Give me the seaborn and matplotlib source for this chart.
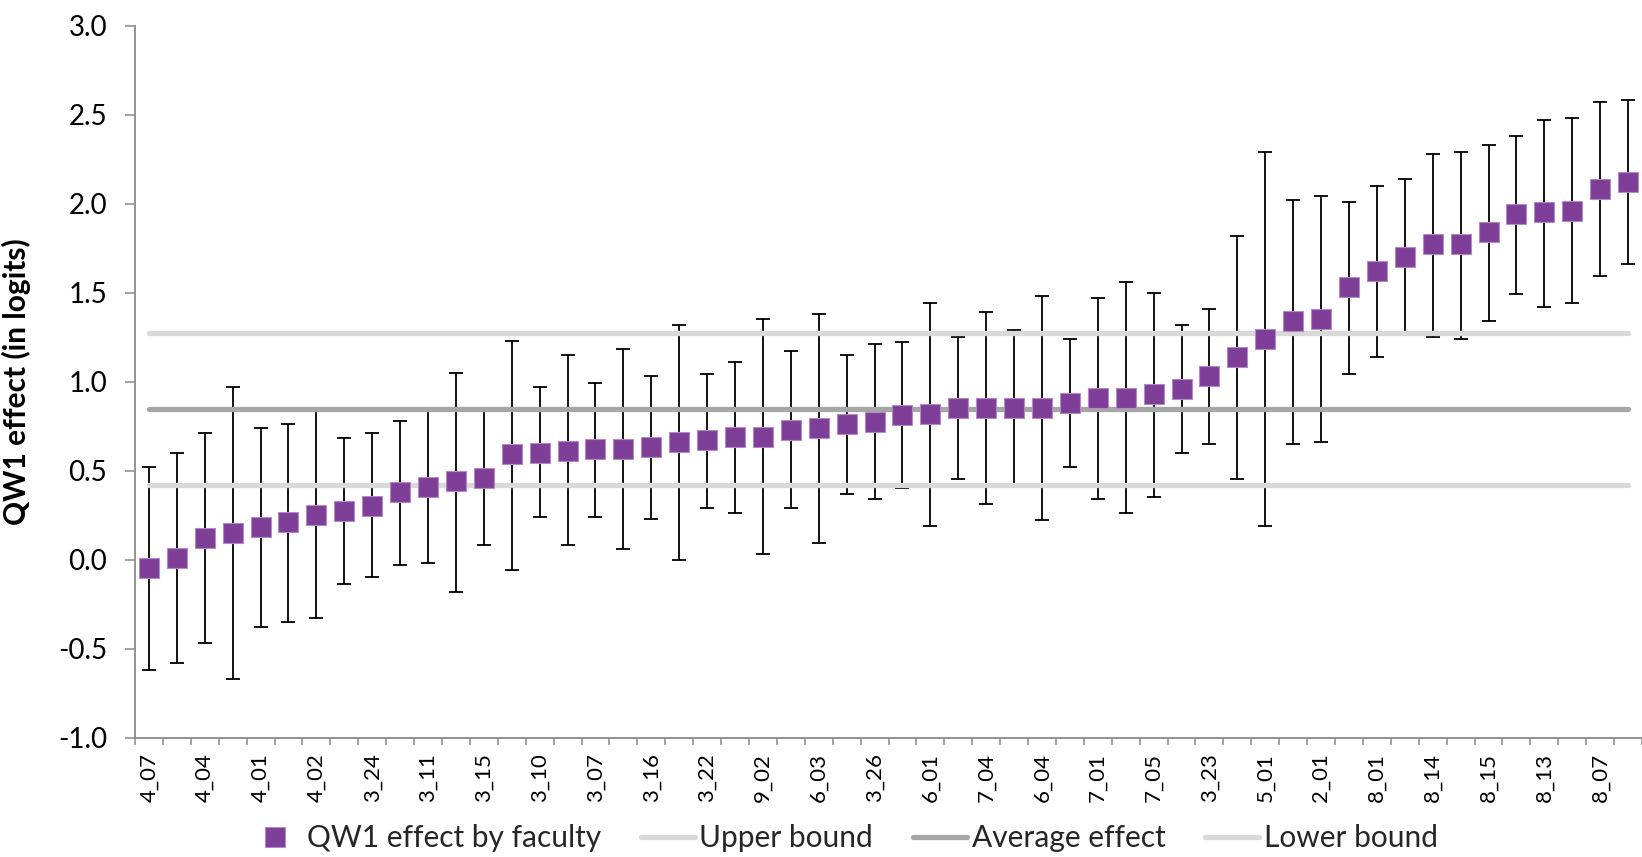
import numpy as np
import pandas as pd
import matplotlib
matplotlib.use("Agg")
import matplotlib.pyplot as plt
from matplotlib.lines import Line2D
import seaborn as sns

# ---------------- data ----------------
tick_labels = ["4_07", "4_04", "4_01", "4_02", "3_24", "3_11", "3_15", "3_10", "3_07",
               "3_16", "3_22", "9_02", "6_03", "3_26", "6_01", "7_04", "6_04", "7_01",
               "7_05", "3_23", "5_01", "2_01", "8_01", "8_14", "8_15", "8_13", "8_07"]

effect = [-0.05, 0.01, 0.12, 0.15, 0.18, 0.21, 0.25, 0.27, 0.30, 0.38, 0.41, 0.44, 0.46,
          0.59, 0.60, 0.61, 0.62, 0.62, 0.63, 0.66, 0.67, 0.69, 0.69, 0.73, 0.74, 0.76,
          0.77, 0.81, 0.82, 0.85, 0.85, 0.85, 0.85, 0.88, 0.91, 0.91, 0.93, 0.96, 1.03,
          1.14, 1.24, 1.34, 1.35, 1.53, 1.62, 1.70, 1.77, 1.77, 1.84, 1.94, 1.95, 1.96,
          2.08, 2.12]

ci_upper = [0.52, 0.60, 0.71, 0.97, 0.74, 0.76, 0.84, 0.68, 0.71, 0.78, 0.84, 1.05, 0.84,
            1.23, 0.97, 1.15, 0.99, 1.18, 1.03, 1.32, 1.04, 1.11, 1.35, 1.17, 1.38, 1.15,
            1.21, 1.22, 1.44, 1.25, 1.39, 1.29, 1.48, 1.24, 1.47, 1.56, 1.50, 1.32, 1.41,
            1.82, 2.29, 2.02, 2.04, 2.01, 2.10, 2.14, 2.28, 2.29, 2.33, 2.38, 2.47, 2.48,
            2.57, 2.58]

ci_lower = [-0.62, -0.58, -0.47, -0.67, -0.38, -0.35, -0.33, -0.14, -0.10, -0.03, -0.02,
            -0.18, 0.08, -0.06, 0.24, 0.08, 0.24, 0.06, 0.23, 0.00, 0.29, 0.26, 0.03, 0.29,
            0.09, 0.37, 0.34, 0.40, 0.19, 0.45, 0.31, 0.42, 0.22, 0.52, 0.34, 0.26, 0.35,
            0.60, 0.65, 0.45, 0.19, 0.65, 0.66, 1.04, 1.14, 1.26, 1.25, 1.24, 1.34, 1.49,
            1.42, 1.44, 1.59, 1.66]

upper_bound = 1.27
average_effect = 0.845
lower_bound = 0.42

y_ticks = [-1.0, -0.5, 0.0, 0.5, 1.0, 1.5, 2.0, 2.5, 3.0]

# ---------------- style ----------------
sns.set_theme(style="white")
plt.rcParams["font.family"] = ["Lato", "DejaVu Sans"]
plt.rcParams["axes.unicode_minus"] = False

PURPLE = "#7F3F98"
PURPLE_EDGE = "#B08CC4"
LIGHT = "#D9D9D9"
MID = "#A6A6A6"
AXIS = "#898989"

n = len(effect)
idx = np.arange(n)
df = pd.DataFrame({"idx": idx, "effect": effect, "lo": ci_lower, "hi": ci_upper})
lines_df = pd.DataFrame({
    "idx": np.concatenate([idx, idx, idx]),
    "value": np.concatenate([np.full(n, upper_bound), np.full(n, average_effect),
                             np.full(n, lower_bound)]),
    "series": ["Upper bound"] * n + ["Average effect"] * n + ["Lower bound"] * n,
})

fig = plt.figure(figsize=(16.42, 8.57), dpi=100)
ax = fig.add_axes([135 / 1642, 1 - 737.5 / 857, 1 - 135 / 1642, (737.5 - 25.5) / 857])

# error bars
yerr = np.vstack([df["effect"] - df["lo"], df["hi"] - df["effect"]])
ax.errorbar(df["idx"], df["effect"], yerr=yerr, fmt="none", ecolor="black",
            elinewidth=1.3, capsize=4.8, capthick=1.3, zorder=1)

# horizontal reference lines
sns.lineplot(data=lines_df, x="idx", y="value", hue="series",
             palette={"Upper bound": LIGHT, "Average effect": MID, "Lower bound": LIGHT},
             linewidth=3.8, legend=False, ax=ax, zorder=2)
for ln in ax.get_lines():
    ln.set_solid_capstyle("round")

# markers
sns.scatterplot(data=df, x="idx", y="effect", marker="s", s=205, color=PURPLE,
                edgecolor=PURPLE_EDGE, linewidth=0.8, ax=ax, zorder=4, legend=False)

# axes
ax.set_xlim(-0.5, 53.05)
ax.set_ylim(-1.0, 3.0)
ax.set_yticks(y_ticks)
ax.set_yticklabels([f"{v:.1f}" for v in y_ticks])
ax.set_xticks(np.arange(0, n, 2)[:len(tick_labels)])
ax.set_xticklabels(tick_labels, rotation=90)
ax.set_xticks(np.arange(-0.5, n, 1.0), minor=True)
ax.tick_params(axis="x", which="major", length=0, pad=11, labelsize=16, labelcolor="black")
ax.tick_params(axis="x", which="minor", length=5, width=1.1, color=AXIS, direction="out",
               bottom=True)
ax.tick_params(axis="y", which="major", length=7, width=1.1, color=AXIS, direction="out",
               pad=13, labelsize=20, labelcolor="black", left=True)
ax.set_xlabel("")
ax.set_ylabel("QW1 effect (in logits)", fontsize=21.5, fontweight="bold", color="black")
ax.yaxis.set_label_coords(-0.069, 0.5)

for side in ["top", "right"]:
    ax.spines[side].set_visible(False)
for side in ["left", "bottom"]:
    ax.spines[side].set_color(AXIS)
    ax.spines[side].set_linewidth(1.3)
ax.grid(False)

# legend
handles = [
    Line2D([], [], marker="s", linestyle="none", markersize=14, markerfacecolor=PURPLE,
           markeredgecolor=PURPLE_EDGE, markeredgewidth=0.8),
    Line2D([], [], color=LIGHT, linewidth=3.8, solid_capstyle="round"),
    Line2D([], [], color=MID, linewidth=3.8, solid_capstyle="round"),
    Line2D([], [], color=LIGHT, linewidth=3.8, solid_capstyle="round"),
]
labels = ["QW1 effect by faculty", "Upper bound", "Average effect", "Lower bound"]
fig.legend(handles, labels, loc="center", bbox_to_anchor=(843 / 1642, 1 - 838 / 857),
           ncol=4, frameon=False, fontsize=21.5, handlelength=1.8, handletextpad=0.15,
           columnspacing=1.35)

fig.savefig("out.png", dpi=100)
